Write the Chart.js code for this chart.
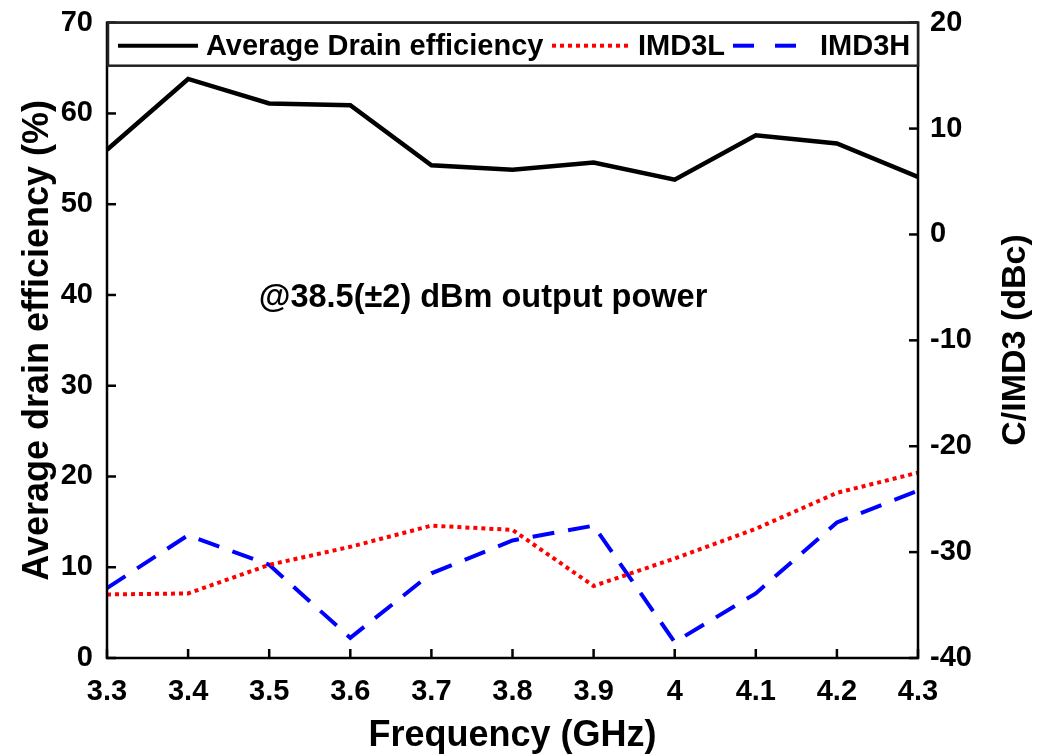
<!DOCTYPE html>
<html>
<head>
<meta charset="utf-8">
<script src="https://cdn.jsdelivr.net/npm/chart.js@4/dist/chart.umd.min.js"></script>
<style>
  html, body { margin: 0; padding: 0; background: #fff; }
  #wrap { width: 1042px; height: 755px; }
</style>
</head>
<body>
<div id="wrap"><canvas id="chart" width="1042" height="755"></canvas></div>
<script>
// ---- data ----
const frequency = [3.3, 3.4, 3.5, 3.6, 3.7, 3.8, 3.9, 4.0, 4.1, 4.2, 4.3];
const drainEff  = [56.0, 63.8, 61.1, 60.9, 54.3, 53.8, 54.6, 52.7, 57.6, 56.7, 53.0];
const imd3L     = [-34.0, -33.9, -31.2, -29.5, -27.5, -27.9, -33.2, -30.6, -27.8, -24.4, -22.5];
const imd3H     = [-33.4, -28.4, -31.2, -38.1, -32.0, -28.9, -27.5, -38.5, -33.9, -27.2, -24.2];

const FONT = "'Liberation Sans', Arial, sans-serif";

function pts(ys) {
    return frequency.map((f, i) => ({ x: f, y: ys[i] }));
}

// frame, inner ticks, legend box, note and right-hand title
const framePlugin = {
    id: 'frame',
    afterDatasetsDraw(chart) {
        const { ctx, chartArea: a, scales } = chart;
        ctx.save();
        ctx.strokeStyle = '#000';
        ctx.lineWidth = 2.5;
        ctx.setLineDash([]);

        const seg = (x1, y1, x2, y2) => {
            ctx.beginPath(); ctx.moveTo(x1, y1); ctx.lineTo(x2, y2); ctx.stroke();
        };
        scales.x.ticks.forEach(t => {
            const px = scales.x.getPixelForValue(t.value);
            seg(px, a.bottom, px, a.bottom - 9);
        });
        scales.y.ticks.forEach(t => {
            const py = scales.y.getPixelForValue(t.value);
            seg(a.left, py, a.left + 9, py);
        });
        scales.y1.ticks.forEach(t => {
            const py = scales.y1.getPixelForValue(t.value);
            seg(a.right, py, a.right - 9, py);
        });
        ctx.strokeRect(a.left, a.top, a.width, a.height);

        // legend box
        const ly = a.top + 23;
        ctx.fillStyle = '#fff';
        ctx.fillRect(a.left + 1, a.top, a.width - 1, 43);
        ctx.strokeStyle = '#222';
        ctx.lineWidth = 2.5;
        ctx.strokeRect(a.left + 1, a.top, a.width - 1, 43);

        ctx.lineWidth = 4;
        ctx.strokeStyle = '#000';
        seg(a.left + 11, ly, a.left + 91, ly);
        ctx.strokeStyle = '#ff0000';
        ctx.setLineDash([4, 4]);
        seg(a.left + 445, ly, a.left + 523, ly);
        ctx.strokeStyle = '#0000ff';
        ctx.setLineDash([21, 21]);
        seg(a.left + 626, ly, a.left + 689, ly);
        ctx.setLineDash([]);

        ctx.fillStyle = '#000';
        ctx.font = 'bold 29px ' + FONT;
        ctx.textBaseline = 'middle';
        ctx.textAlign = 'left';
        ctx.fillText('Average Drain efficiency', a.left + 99, ly + 1);
        ctx.fillText('IMD3L', a.left + 531, ly + 1);
        ctx.fillText('IMD3H', a.left + 713, ly + 1);

        // note
        ctx.font = 'bold 32.5px ' + FONT;
        ctx.textAlign = 'center';
        ctx.fillText('@38.5(\u00b12) dBm output power', 483, 298);

        // right title, reading bottom to top
        ctx.save();
        ctx.translate(1016, 340);
        ctx.rotate(-Math.PI / 2);
        ctx.font = 'bold 34px ' + FONT;
        ctx.fillText('C/IMD3 (dBc)', 0, 0);
        ctx.restore();

        ctx.restore();
    }
};

const tickFont = { family: FONT, size: 29, weight: 'bold' };
// smaller line height on the value axes keeps the plot top at 20px
const yTickFont = { family: FONT, size: 29, weight: 'bold', lineHeight: 0.6 };

new Chart(document.getElementById('chart'), {
    type: 'line',
    data: {
        datasets: [
            {
                label: 'Average Drain efficiency',
                data: pts(drainEff),
                yAxisID: 'y',
                borderColor: '#000',
                borderWidth: 4.5,
                pointRadius: 0,
                tension: 0
            },
            {
                label: 'IMD3L',
                data: pts(imd3L),
                yAxisID: 'y1',
                borderColor: '#ff0000',
                borderWidth: 4,
                borderDash: [4, 4],
                pointRadius: 0,
                tension: 0
            },
            {
                label: 'IMD3H',
                data: pts(imd3H),
                yAxisID: 'y1',
                borderColor: '#0000ff',
                borderWidth: 4,
                borderDash: [22, 14],
                pointRadius: 0,
                tension: 0
            }
        ]
    },
    options: {
        responsive: false,
        animation: false,
        layout: { padding: { top: 20, left: 0, right: 0, bottom: 0 } },
        plugins: { legend: { display: false }, tooltip: { enabled: false } },
        scales: {
            x: {
                type: 'linear',
                min: 3.3,
                max: 4.3,
                grid: { display: false, drawTicks: false },
                border: { display: false },
                ticks: {
                    stepSize: 0.1,
                    color: '#000',
                    font: tickFont,
                    padding: 17,
                    maxRotation: 0,
                    autoSkip: false,
                    callback: v => String(+v.toFixed(1))
                },
                title: {
                    display: true,
                    text: 'Frequency (GHz)',
                    color: '#000',
                    font: { family: FONT, size: 36, weight: 'bold' },
                    padding: { top: 0, bottom: -3 }
                },
                afterFit: s => { s.height = 97; }
            },
            y: {
                position: 'left',
                min: 0,
                max: 70,
                grid: { display: false, drawTicks: false },
                border: { display: false },
                ticks: { stepSize: 10, color: '#000', font: yTickFont, padding: 14 },
                title: {
                    display: true,
                    text: 'Average drain efficiency (%)',
                    color: '#000',
                    font: { family: FONT, size: 36, weight: 'bold' },
                    padding: { top: 16, bottom: 0 }
                },
                afterFit: s => { s.width = 107; }
            },
            y1: {
                position: 'right',
                min: -40,
                max: 20,
                grid: { display: false, drawTicks: false },
                border: { display: false },
                ticks: { stepSize: 10, color: '#000', font: yTickFont, padding: 12 },
                afterFit: s => { s.width = 124; }
            }
        }
    },
    plugins: [framePlugin]
});
</script>
</body>
</html>
